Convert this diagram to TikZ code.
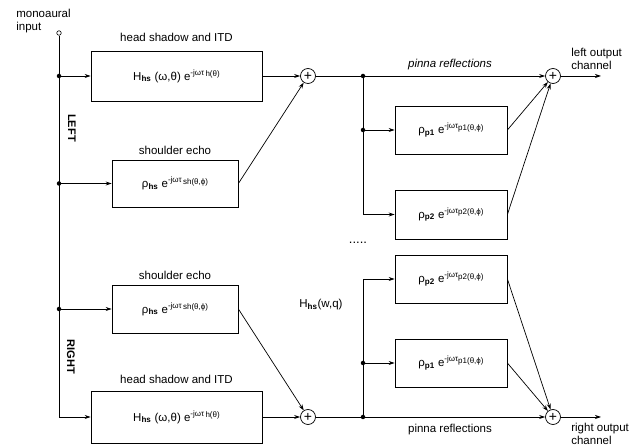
\documentclass[tikz,border=0pt]{standalone}
\usepackage{fontspec}
\setmainfont{Liberation Sans}
\usetikzlibrary{arrows.meta}
\newcommand{\hsub}[1]{\textsubscript{\bfseries #1}}
\newcommand{\esup}[2]{\raisebox{0.8ex}{\fontsize{8}{9}\selectfont #1\raisebox{-0.35ex}{#2}}}
\begin{document}
\begin{tikzpicture}[x=1pt,y=-1pt,
  line width=0.7pt,
  arr/.style={-{Stealth[length=6pt,width=4pt]}},
  blk/.style={draw,line width=0.8pt,inner sep=0pt,font=\fontsize{11.5}{13}\selectfont},
  sumn/.style={draw,circle,inner sep=0pt,minimum size=15pt,font=\fontsize{14}{14}\selectfont},
  lbl/.style={font=\fontsize{11.5}{13}\selectfont,inner sep=0pt},
  side/.style={font=\fontsize{11}{13}\selectfont\bfseries,inner sep=0pt,rotate=-90},
  dot/.style={circle,fill,inner sep=0pt,minimum size=4.5pt}]
\useasboundingbox (0,0) rectangle (641,446);

% input
\node[circle,draw,inner sep=0pt,minimum size=4.5pt,line width=0.6pt] (in) at (59,33) {};
\node[lbl,align=left,anchor=west] (inlab) at (16,21) {monoaural\\input};

% left branch boxes
\node[blk,minimum width=171pt,minimum height=50pt] (H1) at (176.5,76) {H\hsub{hs} (ω,θ) e\esup{-jωτ\,}{h(θ)}};
\node[lbl] (H1lab) at (176.5,37) {head shadow and ITD};
\node[blk,minimum width=126pt,minimum height=47pt] (S1) at (175,183.5) {ρ\hsub{hs} e\esup{-jωτ\,}{sh(θ,ϕ)}};
\node[lbl] (S1lab) at (175,150) {shoulder echo};

% right branch boxes
\node[blk,minimum width=126pt,minimum height=48pt] (S2) at (175,309) {ρ\hsub{hs} e\esup{-jωτ\,}{sh(θ,ϕ)}};
\node[lbl] (S2lab) at (175,275) {shoulder echo};
\node[blk,minimum width=171pt,minimum height=52pt] (H2) at (176.5,417) {H\hsub{hs} (ω,θ) e\esup{-jωτ\,}{h(θ)}};
\node[lbl] (H2lab) at (176.5,379) {head shadow and ITD};

\node[side] (L) at (72,128) {LEFT};
\node[side] (R) at (71,357) {RIGHT};

% sums
\node[sumn] (s1) at (308,76) {+};
\node[sumn] (s2) at (308,417) {+};
\node[sumn] (t1) at (553,76) {+};
\node[sumn] (t2) at (553,417) {+};

% pinna boxes
\node[blk,minimum width=112pt,minimum height=48pt] (P1L) at (451,130) {ρ\hsub{p1} e\esup{-jωτ}{p1(θ,ϕ)}};
\node[blk,minimum width=112pt,minimum height=49pt] (P2L) at (451,214.5) {ρ\hsub{p2} e\esup{-jωτ}{p2(θ,ϕ)}};
\node[blk,minimum width=112pt,minimum height=48pt] (P2R) at (451,279) {ρ\hsub{p2} e\esup{-jωτ}{p2(θ,ϕ)}};
\node[blk,minimum width=112pt,minimum height=48pt] (P1R) at (451,363) {ρ\hsub{p1} e\esup{-jωτ}{p1(θ,ϕ)}};

\node[lbl] (pl1) at (450,65) {\itshape pinna reflections};
\node[lbl] (pl2) at (450,430) {pinna reflections};
\node[lbl,align=left,anchor=west] (outL) at (571,59) {left output\\channel};
\node[lbl,align=left,anchor=west] (outR) at (571,434) {right output\\channel};
\node[lbl] (hw) at (321,305) {H\hsub{hs}(w,q)};
\node[lbl,font=\fontsize{13}{13}\selectfont] (dots) at (358,243) {.....};

% junctions
\coordinate (j1) at (59,76);
\coordinate (j2) at (59,183.5);
\coordinate (j3) at (59,309);
\coordinate (cb) at (59,417);
\coordinate (ka) at (363,76);
\coordinate (kb) at (363,130);
\coordinate (kc) at (363,363);
\coordinate (kd) at (363,417);
\coordinate (oL) at (601,76);
\coordinate (oR) at (601,417);

% trunk
\draw (in.south) -- (cb);
\draw[arr] (j1) -- (H1.west);
\draw[arr] (j2) -- (S1.west);
\draw[arr] (j3) -- (S2.west);
\draw[arr] (cb) -- (H2.west);
\node[dot] at (j1) {};
\node[dot] at (j2) {};
\node[dot] at (j3) {};

% to first sums
\draw[arr] (H1.east) -- (s1);
\draw[arr] (S1.east) -- (s1);
\draw[arr] (H2.east) -- (s2);
\draw[arr] (S2.east) -- (s2);

% left pinna
\draw (s1) -- (ka);
\draw[arr] (ka) -- (t1);
\draw[arr] (ka) |- (P2L.west);
\draw[arr] (kb) -- (P1L.west);
\draw[arr] (P1L.east) -- (t1);
\draw[arr] (P2L.east) -- (t1);
\draw[arr] (t1) -- (oL);
\node[dot] at (ka) {};
\node[dot] at (kb) {};

% right pinna
\draw (s2) -- (kd);
\draw[arr] (kd) -- (t2);
\draw[arr] (kd) |- (P2R.west);
\draw[arr] (kc) -- (P1R.west);
\draw[arr] (P1R.east) -- (t2);
\draw[arr] (P2R.east) -- (t2);
\draw[arr] (t2) -- (oR);
\node[dot] at (kc) {};
\node[dot] at (kd) {};
\end{tikzpicture}
\end{document}
